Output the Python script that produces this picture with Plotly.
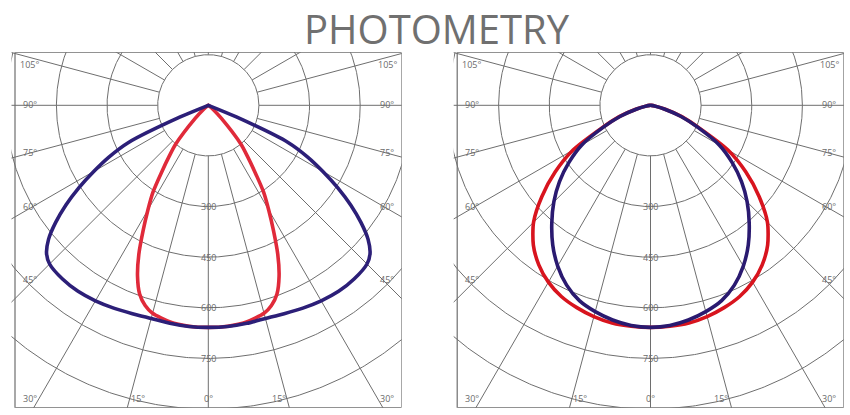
import numpy as np
import plotly.graph_objects as go

# ---------------- data (candela values, angle measured from nadir) ----------------
ANG_LEFT_RED = [0, 5, 10, 15, 17.5, 20, 22.5, 25, 27.5, 30, 32.5, 35, 37.5, 40, 45, 50, 55, 60, 90]
VAL_LEFT_RED = [658, 657, 652, 638, 622, 595, 548, 487, 418, 358, 305, 240, 190, 150, 55, 18, 5, 0, 0]

ANG_LEFT_BLUE = [0, 5, 10, 15, 20, 25, 30, 35, 40, 45, 47.5, 50, 52.5, 55, 57.5, 60, 62.5, 65, 67.5, 70, 90]
VAL_LEFT_BLUE = [658, 658, 656, 654, 657, 663, 669, 673, 672, 665, 650, 618, 570, 515, 455, 392, 332, 262, 90, 0, 0]

ANG_RIGHT_RED = [0, 5, 10, 15, 20, 25, 30, 35, 40, 45, 50, 55, 60, 65, 70, 75, 80, 85, 90]
VAL_RIGHT_RED = [658, 657, 655, 648, 638, 625, 605, 577, 540, 490, 420, 345, 265, 160, 100, 45, 14, 3, 0]

ANG_RIGHT_BLUE = [0, 5, 10, 15, 20, 25, 30, 35, 40, 45, 50, 55, 60, 65, 70, 75, 80, 85, 90]
VAL_RIGHT_BLUE = [658, 655, 646, 633, 616, 588, 550, 505, 455, 405, 352, 295, 235, 155, 95, 42, 12, 2, 0]

RING_VALUES = [150, 300, 450, 600, 750, 900]
RING_LABELS = ["300", "450", "600", "750"]
SPOKE_STEP = 15
SIDE_ANGLES = [105, 90, 75, 60, 45]
BOTTOM_ANGLES = [-30, -15, 0, 15, 30]

TITLE = "PHOTOMETRY"

# ---------------- geometry / style ----------------
W, H = 850, 415
S = 0.3375                 # pixels per candela unit
CY = 105.3                 # pole y (px from top)
CENTERS_X = [208.3, 650.5]  # pole x for the two panels (px)
HALF_W = 193.3             # frame half width (px)
TOP_PX = 53.0              # frame top above pole (px)
BOT_PX = 302.4             # frame bottom below pole (px)
EXTRA_L = 3.5              # clip extends a little left of the frame (px)

GRID = "#6e6e6e"
TXT = "#6a6a6a"
RED_L, BLUE_L = "#e02a3a", "#2c1f78"
RED_R, BLUE_R = "#d8141e", "#2a1a70"


def polar_xy(ang_deg, val):
    a = np.radians(np.asarray(ang_deg, float))
    v = np.asarray(val, float)
    return v * np.sin(a), -v * np.cos(a)


def mirrored(ang, val):
    ang = np.asarray(ang, float)
    val = np.asarray(val, float)
    full_a = np.concatenate([-ang[::-1], ang[1:]])
    full_v = np.concatenate([val[::-1], val[1:]])
    return polar_xy(full_a, full_v)


fig = go.Figure()

x_range = [-(HALF_W + EXTRA_L) / S, HALF_W / S]
y_range = [-BOT_PX / S, TOP_PX / S]

panels = [
    ("x", "y", (ANG_LEFT_RED, VAL_LEFT_RED, RED_L), (ANG_LEFT_BLUE, VAL_LEFT_BLUE, BLUE_L)),
    ("x2", "y2", (ANG_RIGHT_RED, VAL_RIGHT_RED, RED_R), (ANG_RIGHT_BLUE, VAL_RIGHT_BLUE, BLUE_R)),
]

annotations = []
shapes = []
lab_font = dict(size=9, color=TXT, family="Open Sans")

for i, (xa, ya, red, blue) in enumerate(panels):
    # rings
    t = np.linspace(0, 2 * np.pi, 721)
    rx, ry = [], []
    for r in RING_VALUES:
        rx += list(r * np.cos(t)) + [None]
        ry += list(r * np.sin(t)) + [None]
    fig.add_trace(go.Scatter(x=rx, y=ry, mode="lines", line=dict(color=GRID, width=1),
                             hoverinfo="skip", showlegend=False, xaxis=xa, yaxis=ya))
    # spokes
    sx, sy = [], []
    for a in range(0, 360, SPOKE_STEP):
        px_, py_ = polar_xy([a, a], [RING_VALUES[0], 1400])
        sx += list(px_) + [None]
        sy += list(py_) + [None]
    fig.add_trace(go.Scatter(x=sx, y=sy, mode="lines", line=dict(color=GRID, width=1),
                             hoverinfo="skip", showlegend=False, xaxis=xa, yaxis=ya))
    # curves
    for ang, val, col in (red, blue):
        cx, cy = mirrored(ang, val)
        fig.add_trace(go.Scatter(x=cx, y=cy, mode="lines",
                                 line=dict(color=col, width=3.6, shape="spline", smoothing=0.7),
                                 hoverinfo="skip", showlegend=False, xaxis=xa, yaxis=ya))
    # frame
    shapes.append(dict(type="rect", xref=xa, yref=ya, x0=-HALF_W / S, x1=HALF_W / S,
                       y0=-BOT_PX / S, y1=TOP_PX / S, line=dict(color=GRID, width=1.2)))
    # ring labels
    for lab in RING_LABELS:
        annotations.append(dict(x=0, y=-float(lab), xref=xa, yref=ya, text=lab, showarrow=False,
                                font=lab_font, xanchor="center", yanchor="middle"))
    # side angle labels (px offsets from pole)
    side_y = {105: -40.5, 90: -0.8, 75: 47.4, 60: 101.0, 45: 174.0}
    for a in SIDE_ANGLES:
        for sgn in (-1, 1):
            xpx = sgn * (HALF_W - 14.5)
            annotations.append(dict(x=xpx / S, y=-side_y[a] / S, xref=xa, yref=ya,
                                    text=f"{a}°", showarrow=False, font=lab_font,
                                    xanchor="center", yanchor="middle"))
    # bottom angle labels
    for a in BOTTOM_ANGLES:
        ypx = 293.0
        xpx = ypx * np.tan(np.radians(a))
        if abs(a) == 15:
            xpx -= np.sign(a) * 8.0
        elif abs(a) == 30:
            xpx = np.sign(a) * (HALF_W - 15.0)
        annotations.append(dict(x=xpx / S, y=-ypx / S, xref=xa, yref=ya,
                                text=f"{abs(a)}°", showarrow=False, font=lab_font,
                                xanchor="center", yanchor="middle"))

axis_common = dict(showgrid=False, zeroline=False, showticklabels=False, ticks="",
                   showline=False, fixedrange=True)
ytop = 1 - (CY - TOP_PX) / H
ybot = 1 - (CY + BOT_PX) / H
doms = [[(c - HALF_W - EXTRA_L) / W, (c + HALF_W) / W] for c in CENTERS_X]

fig.update_layout(
    width=W, height=H,
    margin=dict(l=0, r=0, t=0, b=0),
    paper_bgcolor="white", plot_bgcolor="white",
    xaxis=dict(domain=doms[0], range=x_range, **axis_common),
    yaxis=dict(domain=[ybot, ytop], range=y_range, **axis_common),
    xaxis2=dict(domain=doms[1], range=x_range, **axis_common),
    yaxis2=dict(domain=[ybot, ytop], range=y_range, anchor="x2", **axis_common),
    shapes=shapes,
    annotations=annotations + [dict(
        x=437.5 / W, y=1.0, xref="paper", yref="paper", text=TITLE, showarrow=False,
        font=dict(size=40, color="#707070", family="Open Sans"),
        xanchor="center", yanchor="top", borderpad=0)],
)

fig.write_html("out.html", config={"displayModeBar": False},
               post_script="document.body.style.margin='0';document.body.style.padding='0';")
